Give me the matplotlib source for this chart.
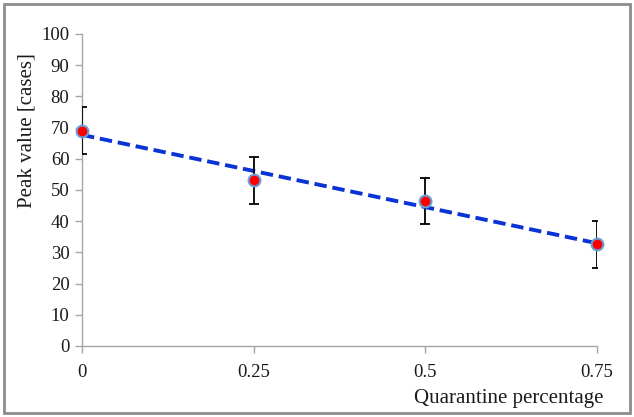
import numpy as np
import matplotlib
matplotlib.use("Agg")
import matplotlib.pyplot as plt
from matplotlib.patches import Rectangle

# data
quarantine = [0, 0.25, 0.5, 0.75]
peak = [69.0, 53.1, 46.5, 32.6]
peak_err = [7.6, 7.5, 7.4, 7.5]
x_ticks = [0, 0.25, 0.5, 0.75]
x_tick_labels = ["0", "0.25", "0.5", "0.75"]
y_ticks = list(range(0, 101, 10))

plt.rcParams["font.family"] = ["Liberation Serif", "DejaVu Serif"]

fig = plt.figure(figsize=(6.34, 4.17), dpi=100)
ax = fig.add_axes([0.1293, 0.1703, 0.8123, 0.7482])

# frame around the whole chart
fig.patches.append(Rectangle((4 / 634, 4 / 417), 626 / 634, 409 / 417,
                             transform=fig.transFigure, fill=False,
                             edgecolor="#8c8c8c", linewidth=2))

# linear trend line
coef = np.polyfit(quarantine, peak, 1)
xt = np.array([quarantine[0], quarantine[-1]])
ax.plot(xt, np.polyval(coef, xt), color="#0a33d6", linewidth=2.8,
        linestyle=(0, (3.2, 1.5)), zorder=2)

ax.errorbar(quarantine, peak, yerr=peak_err, fmt="none", ecolor="black",
            elinewidth=1.3, capsize=3.5, capthick=1.3, zorder=3)
ax.plot(quarantine, peak, linestyle="none", marker="o", markersize=8.5,
        markerfacecolor="#ff0000", markeredgecolor="#6a9fd8",
        markeredgewidth=1.5, zorder=4, clip_on=False)

ax.set_xlim(0, 0.75)
ax.set_ylim(0, 100)
ax.set_xticks(x_ticks)
ax.set_xticklabels(x_tick_labels)
ax.set_yticks(y_ticks)

for s in ["top", "right"]:
    ax.spines[s].set_visible(False)
for s in ["left", "bottom"]:
    ax.spines[s].set_color("#a6a6a6")
    ax.spines[s].set_linewidth(1.0)
ax.tick_params(axis="both", direction="out", length=5, width=1.0,
               color="#a6a6a6", labelsize=13.5, labelcolor="#1a1a1a")
ax.tick_params(axis="x", pad=8)
ax.tick_params(axis="y", pad=4)

ax.set_ylabel("Peak value [cases]", fontsize=15, color="#1a1a1a",
              va="center", ha="center")
ax.yaxis.set_label_coords(-0.106, 0.692)
fig.text(604 / 634, 1 - 398 / 417, "Quarantine percentage", ha="right",
         va="center", fontsize=15, color="#1a1a1a")

fig.savefig("out.png", dpi=100)
